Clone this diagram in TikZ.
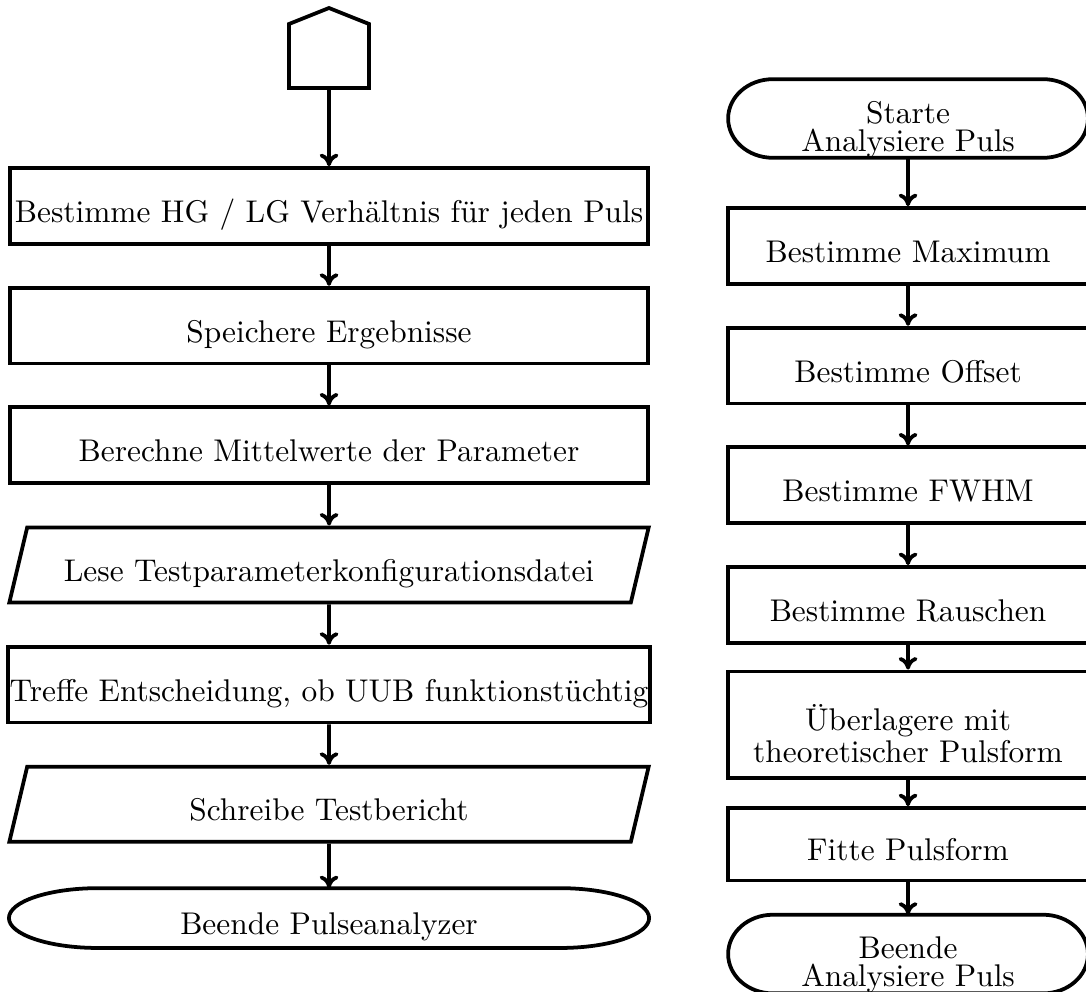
\documentclass[tikz,border=0pt]{standalone}
\usepackage{tikz}
\usetikzlibrary{arrows.meta,shapes.geometric,calc}

\newcommand{\txtdrop}{\rule{0pt}{14pt}}

\begin{document}
\begin{tikzpicture}[every node/.style={font=\normalsize}, very thick, >={To[length=4pt, width=6pt]},
	basebox/.style={draw, rectangle, inner sep=0.5pt, minimum height=0.85cm},
	proc/.style={basebox, minimum width=7.15cm, text height=12.6pt, text depth=2pt},
	rproc/.style={basebox, minimum width=4.03cm, text height=12.6pt, text depth=2pt},
	io/.style={draw, trapezium, trapezium left angle=70, trapezium right angle=110, trapezium stretches body, inner sep=0.5pt, minimum width=7.16cm, minimum height=0.84cm, text height=12.6pt, text depth=2pt},
	term/.style={rectangle, outer sep=0pt, inner xsep=1pt, inner ysep=0pt, align=center}]
	\useasboundingbox (0,0) rectangle (12.163,-11.099);
	% left column
	\node[outer sep=0pt, inner sep=0pt, minimum width=0.896cm, minimum height=0.717cm] (conn) at (3.685,-0.627) {};
	\draw (conn.south west) -- (conn.north west) -- ([yshift=0.179cm]conn.north) -- (conn.north east) -- (conn.south east) -- cycle;
	\node[proc] (hglg) at (3.685,-2.307) {Bestimme HG / LG Verhältnis für jeden Puls};
	\node[proc] (save) at (3.685,-3.647) {Speichere Ergebnisse};
	\node[proc] (mean) at (3.685,-4.987) {Berechne Mittelwerte der Parameter};
	\node[io] (conf) at (3.685,-6.327) {Lese Testparameterkonfigurationsdatei};
	\node[proc] (dec) at (3.685,-7.667) {Treffe Entscheidung, ob UUB funktionstüchtig};
	\node[io] (rep) at (3.685,-9.007) {Schreibe Testbericht};
	\node[term, minimum width=7.17cm, minimum height=0.67cm, text height=12.6pt, text depth=2pt] (stop) at (3.685,-10.282) {Beende Pulseanalyzer};
	\draw let \p1=($(stop.north)-(stop.south)$) in ([xshift=1cm]stop.north west) -- ([xshift=-1cm]stop.north east) arc[start angle=90, end angle=-90, x radius=1cm, y radius=0.5*\y1] -- ([xshift=1cm]stop.south west) arc[start angle=270, end angle=90, x radius=1cm, y radius=0.5*\y1] -- cycle;
	\draw[->] (conn) -- (hglg);
	\draw[->] (hglg) -- (save);
	\draw[->] (save) -- (mean);
	\draw[->] (mean) -- (conf);
	\draw[->] (conf) -- (dec);
	\draw[->] (dec) -- (rep);
	\draw[->] (rep) -- (stop);
	% right column: Analysiere Puls
	\node[term, minimum width=4.03cm, minimum height=0.86cm] (astart) at (10.170,-1.327) {\txtdrop Starte\\[-3pt] Analysiere Puls};
	\draw let \p1=($(astart.north)-(astart.south)$) in ([xshift=0.5cm]astart.north west) -- ([xshift=-0.5cm]astart.north east) arc[start angle=90, end angle=-90, x radius=0.5cm, y radius=0.5*\y1] -- ([xshift=0.5cm]astart.south west) arc[start angle=270, end angle=90, x radius=0.5cm, y radius=0.5*\y1] -- cycle;
	\node[rproc] (amax) at (10.170,-2.755) {Bestimme Maximum};
	\node[rproc] (aoff) at (10.170,-4.095) {Bestimme Offset};
	\node[rproc] (afwhm) at (10.170,-5.435) {Bestimme FWHM};
	\node[rproc] (anoise) at (10.170,-6.775) {Bestimme Rauschen};
	\node[basebox, minimum width=4.03cm, minimum height=1.19cm, align=center] (atheo) at (10.170,-8.115) {\txtdrop Überlagere mit\\[-2pt] theoretischer Pulsform};
	\node[rproc, minimum height=0.81cm] (afit) at (10.170,-9.455) {Fitte Pulsform};
	\node[term, minimum width=4.03cm, minimum height=0.83cm] (aend) at (10.170,-10.685) {\txtdrop Beende\\[-3pt] Analysiere Puls};
	\draw let \p1=($(aend.north)-(aend.south)$) in ([xshift=0.5cm]aend.north west) -- ([xshift=-0.5cm]aend.north east) arc[start angle=90, end angle=-90, x radius=0.5cm, y radius=0.5*\y1] -- ([xshift=0.5cm]aend.south west) arc[start angle=270, end angle=90, x radius=0.5cm, y radius=0.5*\y1] -- cycle;
	\draw[->] (astart) -- (amax);
	\draw[->] (amax) -- (aoff);
	\draw[->] (aoff) -- (afwhm);
	\draw[->] (afwhm) -- (anoise);
	\draw[->] (anoise) -- (atheo);
	\draw[->] (atheo) -- (afit);
	\draw[->] (afit) -- (aend);
\end{tikzpicture}
\end{document}
